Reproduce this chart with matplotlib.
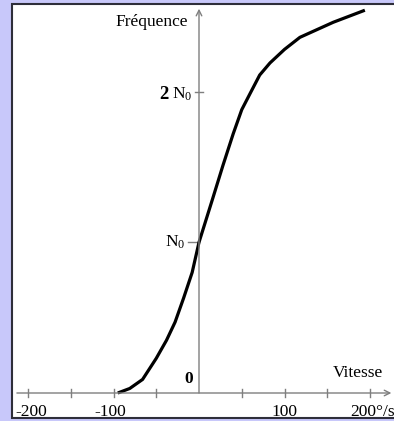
import matplotlib.pyplot as plt
from matplotlib.patches import Rectangle

plt.rcParams["font.family"] = "Liberation Serif"
plt.rcParams["mathtext.default"] = "regular"

# Vitesse (°/s) et fréquence (en unités de N0)
speed = [-95, -81, -66, -50, -38, -28, -18, -8, 0, 16, 28, 40, 50,
         60, 71, 83, 100, 118, 157, 194]
freq = [0.0, 0.03, 0.09, 0.23, 0.35, 0.47, 0.63, 0.80, 1.0, 1.29,
        1.51, 1.72, 1.88, 1.99, 2.11, 2.19, 2.28, 2.36, 2.46, 2.54]

x_ticks = [-200, -150, -100, -50, 50, 100, 150, 200]
x_ticklabels = {-200: "-200", -100: "-100", 100: "100", 200: "200°/s"}
y_ticks = [1, 2]

axis_color = "#7f7f7f"

fig = plt.figure(figsize=(3.94, 4.21), dpi=100)
fig.patch.set_facecolor("#c8c8fa")

# white panel with dark frame
fig.patches.append(Rectangle((12 / 394, 3 / 421), 390 / 394, 414 / 421,
                             transform=fig.transFigure, facecolor="white",
                             edgecolor="#2e2e3a", linewidth=1.5, zorder=-1))

ax = fig.add_axes([0, 0, 1, 1])
ax.set_facecolor("none")
ax.set_xlim(-199 / 0.855, 195 / 0.855)
ax.set_ylim(-28 / 150.7, 393 / 150.7)
ax.axis("off")

# axes
ax.annotate("", xy=(225, 0), xytext=(-213, 0),
            arrowprops=dict(arrowstyle="->", color=axis_color, lw=1.0,
                            shrinkA=0, shrinkB=0))
ax.annotate("", xy=(0, 2.55), xytext=(0, 0),
            arrowprops=dict(arrowstyle="->", color=axis_color, lw=1.0,
                            shrinkA=0, shrinkB=0))

for t in x_ticks:
    ax.plot([t, t], [-0.025, 0.025], color=axis_color, lw=1.0)
ax.plot([-13, 0], [y_ticks[0], y_ticks[0]], color=axis_color, lw=1.0)
ax.plot([-5, 5], [y_ticks[1], y_ticks[1]], color=axis_color, lw=1.0)

# curve
ax.plot(speed, freq, color="black", lw=2.3, solid_capstyle="butt",
        solid_joinstyle="round")

fs = 12.5
label_x = {-200: -196, -100: -104, 100: 100, 200: 177}
for t, lab in x_ticklabels.items():
    ha = "left" if t == 200 else "center"
    ax.text(label_x[t], -0.075, lab, ha=ha, va="top", fontsize=fs)

ax.text(-13, 2.46, "Fréquence", ha="right", va="center", fontsize=fs)
ax.text(-8, 1.98, "N$_0$", ha="right", va="center", fontsize=fs)
ax.text(-36, 1.98, "2", ha="right", va="center", fontsize=13.5,
        fontweight="bold")
ax.text(-16, 1.0, "N$_0$", ha="right", va="center", fontsize=fs)
ax.text(-7, 0.09, "0", ha="right", va="center", fontsize=fs, fontweight="bold")
ax.text(215, 0.13, "Vitesse", ha="right", va="center", fontsize=fs)

fig.savefig("out.png", dpi=100)
